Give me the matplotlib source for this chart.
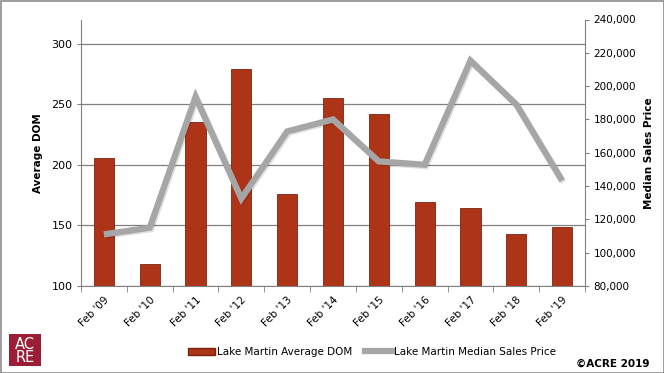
import matplotlib
matplotlib.use("Agg")
import matplotlib.pyplot as plt
import matplotlib.patheffects as pe
from matplotlib.lines import Line2D
from matplotlib.patches import Patch, Rectangle
from matplotlib.ticker import FuncFormatter

# data
months = ["Feb '09", "Feb '10", "Feb '11", "Feb '12", "Feb '13", "Feb '14",
          "Feb '15", "Feb '16", "Feb '17", "Feb '18", "Feb '19"]
avg_dom = [206, 118, 235, 279, 176, 255, 242, 169, 164, 143, 149]
median_price = [111000, 115000, 193500, 132500, 172800, 180000,
                154800, 152800, 215300, 189000, 143200]

bar_color = "#AE3418"
line_color = "#A6A6A6"
grid_color = "#808080"

plt.rcParams["font.family"] = "DejaVu Sans"

fig = plt.figure(figsize=(6.64, 3.73), dpi=100)
ax = fig.add_axes([81 / 664, 1 - 286 / 373, 504 / 664, 266.5 / 373])

x = list(range(len(months)))
ax.bar(x, avg_dom, width=0.44, color=bar_color, edgecolor="#7A2410",
       linewidth=0.6, zorder=2)
ax.set_xlim(-0.5, len(months) - 0.5)
ax.set_ylim(100, 320)
ax.set_yticks([100, 150, 200, 250, 300])
ax.yaxis.grid(True, color=grid_color, linewidth=0.9, zorder=0)
ax.set_axisbelow(True)
ax.set_xticks(x)
ax.set_xticklabels(months, rotation=45, ha="right", va="top",
                   rotation_mode="anchor", fontsize=7.5)
ax.tick_params(axis="x", length=0, pad=6)
ax.set_xticks([i - 0.5 for i in range(len(months) + 1)], minor=True)
ax.tick_params(axis="x", which="minor", length=4, color=grid_color)
ax.tick_params(axis="y", labelsize=8, length=3, color=grid_color, pad=3)
for s in ["top", "right"]:
    ax.spines[s].set_visible(False)
for s in ["left", "bottom"]:
    ax.spines[s].set_color(grid_color)
ax.set_ylabel("Average DOM", fontsize=7.5, fontweight="bold", labelpad=6)

ax2 = ax.twinx()
ax2.plot(x, median_price, color=line_color, linewidth=4.5,
         solid_joinstyle="miter", solid_capstyle="butt", zorder=3,
         path_effects=[pe.SimpleLineShadow(offset=(1, -1), alpha=0.12,
                                           shadow_color="black"),
                       pe.Normal()])
ax2.set_ylim(80000, 240000)
ax2.set_yticks(range(80000, 240001, 20000))
ax2.yaxis.set_major_formatter(FuncFormatter(lambda v, p: f"{int(v):,}"))
ax2.tick_params(axis="y", labelsize=7.5, length=3, color=grid_color, pad=3)
for s in ["top", "left", "bottom"]:
    ax2.spines[s].set_visible(False)
ax2.spines["right"].set_color(grid_color)
ax2.set_ylabel("Median Sales Price", fontsize=7.5, fontweight="bold", labelpad=6)

handles = [Patch(facecolor=bar_color, edgecolor="#7A2410"),
           Line2D([0], [0], color=line_color, linewidth=4.5)]
fig.legend(handles, ["Lake Martin Average DOM", "Lake Martin Median Sales Price"],
           loc="center", bbox_to_anchor=(0.56, 1 - 352 / 373), ncol=2,
           frameon=False, fontsize=7.5, handlelength=2.6, handletextpad=0.2,
           columnspacing=1.2)

fig.text(650 / 664, 1 - 364 / 373, "\u00a9ACRE 2019", ha="right", va="center",
         fontsize=7.5, fontweight="bold")

# logo
logo = fig.add_axes([9 / 664, 1 - 366 / 373, 32 / 664, 32 / 373])
logo.set_facecolor("#9B1E36")
logo.set_xticks([])
logo.set_yticks([])
for s in logo.spines.values():
    s.set_visible(False)
logo.text(0.5, 0.48, "AC\nRE", color="white", ha="center", va="center",
          fontsize=10.5, linespacing=0.85, transform=logo.transAxes)

fig.patches.append(Rectangle((0.5 / 664, 0.5 / 373), 663 / 664, 372 / 373,
                             transform=fig.transFigure, fill=False,
                             edgecolor="#8C8C8C", linewidth=1.2))

fig.savefig("out.png", dpi=100)
